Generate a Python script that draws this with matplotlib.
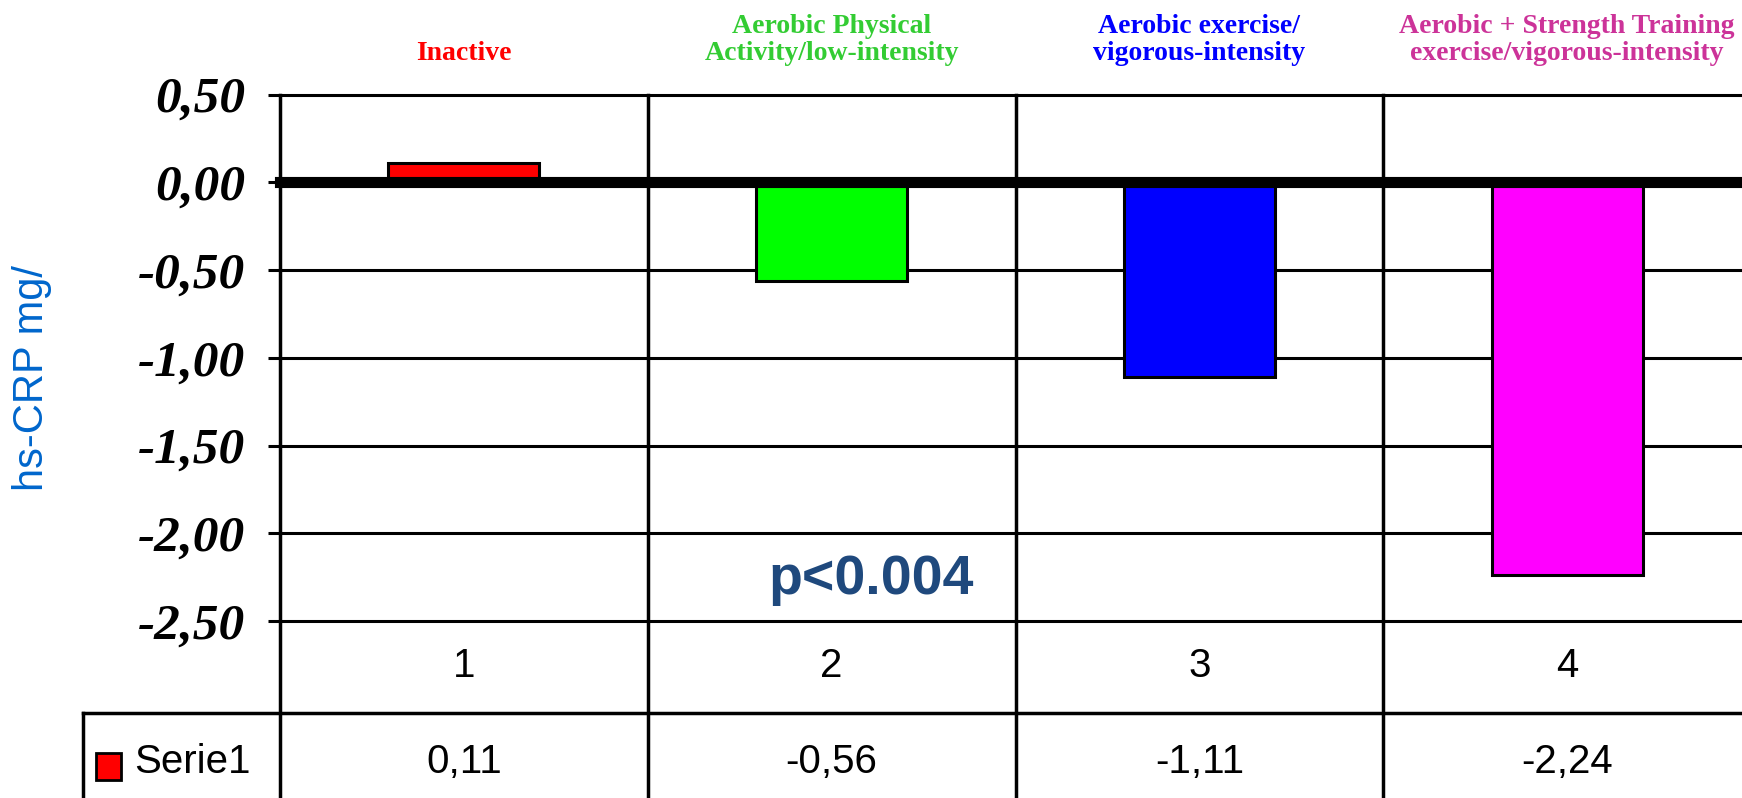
import matplotlib
matplotlib.use("Agg")
import matplotlib.pyplot as plt
from matplotlib.lines import Line2D
from matplotlib.patches import Rectangle
from matplotlib.transforms import blended_transform_factory

# data
categories = ["1", "2", "3", "4"]
values = [0.11, -0.56, -1.11, -2.24]
series_name = "Serie1"
group_labels = ["Inactive",
                "Aerobic Physical\nActivity/low-intensity",
                "Aerobic exercise/\nvigorous-intensity",
                "Aerobic + Strength Training\nexercise/vigorous-intensity"]
label_colors = ["#FF0000", "#33CC33", "#0000FF", "#CC3399"]
bar_colors = ["#FF0000", "#00FF00", "#0000FF", "#FF00FF"]
yticks = [0.5, 0.0, -0.5, -1.0, -1.5, -2.0, -2.5]
y_label = "hs-CRP mg/"
p_text = "p<0.004"

W, H = 1742, 798
fig = plt.figure(figsize=(W / 100, H / 100), dpi=100)
fig.patch.set_facecolor("white")

# axes box in pixel coords of the reference
x0, x1 = 280, 1751
ytop, ybot = 94.5, 621
ax = fig.add_axes([x0 / W, 1 - ybot / H, (x1 - x0) / W, (ybot - ytop) / H])
ax.set_xlim(-0.5, len(categories) - 0.5)
ax.set_ylim(-2.5, 0.5)
for s in ax.spines.values():
    s.set_visible(False)
ax.set_xticks([])

# y ticks / gridlines
ax.set_yticks(yticks)
ax.set_yticklabels([f"{t:.2f}".replace(".", ",") for t in yticks],
                   family="Liberation Serif", weight="bold", style="italic",
                   fontsize=37)
ax.tick_params(axis="y", length=9, width=2.2, pad=16, color="black")
for t in yticks:
    ax.axhline(t, color="black", lw=2.2, zorder=1, clip_on=False)
ax.axhline(0, color="black", lw=8, zorder=4, clip_on=False)

# bars
xs = range(len(values))
ax.bar(xs, values, width=0.41, color=bar_colors, edgecolor="black",
       linewidth=2.2, zorder=3)

# category separators running through the table
tr = blended_transform_factory(ax.transData, fig.transFigure)
for xv in [i - 0.5 for i in range(len(categories) + 1)]:
    fig.add_artist(Line2D([xv, xv], [0, 1 - ytop / H], transform=tr,
                          color="black", lw=2.5, zorder=5))

# table grid
row_line = 1 - 713 / H
fig.add_artist(Line2D([83 / W, 1.0], [row_line, row_line],
                      transform=fig.transFigure, color="black", lw=2.5))
fig.add_artist(Line2D([83 / W, 83 / W], [0, row_line],
                      transform=fig.transFigure, color="black", lw=2.5))

# table text
for i, (c, v) in enumerate(zip(categories, values)):
    fig.text(i, 1 - 666 / H, c, transform=tr, ha="center", va="center",
             fontsize=29, family="Liberation Sans")
    fig.text(i, 1 - 762 / H, f"{v:.2f}".replace(".", ","), transform=tr,
             ha="center", va="center", fontsize=29, family="Liberation Sans")

# legend key in table
fig.add_artist(Rectangle((96 / W, 1 - 780 / H), 25 / W, 27 / H,
                         transform=fig.transFigure, facecolor=bar_colors[0],
                         edgecolor="black", lw=2))
fig.text(134 / W, 1 - 762 / H, series_name, ha="left", va="center",
         fontsize=29, family="Liberation Sans")

# group labels above plot
for i, (lab, col) in enumerate(zip(group_labels, label_colors)):
    fig.text(i, 1 - 66 / H, lab, transform=tr, ha="center", va="bottom",
             color=col, fontsize=20, family="Liberation Serif", weight="bold",
             linespacing=1.1, multialignment="center")

# y label and p value
fig.text(32 / W, 1 - 378 / H, y_label, rotation=90, ha="center", va="center",
         color="#0066CC", fontsize=30, family="Liberation Sans")
fig.text(871 / W, 1 - 580 / H, p_text, ha="center", va="center",
         color="#1F497D", fontsize=40, family="Liberation Sans", weight="bold")

fig.savefig("out.png", dpi=100, facecolor="white")
